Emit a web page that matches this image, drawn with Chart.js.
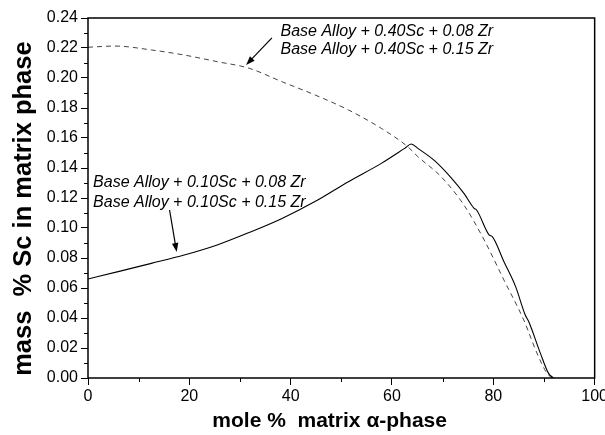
<!DOCTYPE html>
<html>
<head>
<meta charset="utf-8">
<script src="https://cdn.jsdelivr.net/npm/chart.js@4.4.1/dist/chart.umd.min.js"></script>
<style>
  html, body { margin: 0; padding: 0; background: #fff; overflow: hidden; width: 605px; height: 435px; }
  #wrap { position: absolute; left: 0; top: 0; width: 610px; height: 435px; }
</style>
</head>
<body>
<div id="wrap"><canvas id="c" width="610" height="435"></canvas></div>
<script>
// ---- data ----
const xHigh = [0, 5.3, 12.5, 19, 25.5, 31.8, 38.3, 44.8, 51.4, 57.9, 63.1, 65.1, 69.7, 74.2, 78.2, 82.1, 86.0, 88.6, 90.6, 91.6];
const yHigh = [0.2205, 0.2213, 0.2187, 0.2153, 0.2109, 0.2065, 0.1975, 0.1887, 0.1787, 0.1664, 0.1542, 0.1476, 0.1342, 0.1153, 0.0920, 0.0653, 0.0387, 0.0167, 0.0031, 0];
const xLow = [0, 5.95, 12.5, 19.0, 25.5, 31.8, 38.3, 44.8, 51.4, 57.9, 62.5, 63.8, 65.1, 68.4, 71.6, 74.2, 76.2, 76.7, 79.2, 79.8, 82.1, 84.4, 86.3, 87.0, 89.3, 90.9, 91.9];
const yLow = [0.0660, 0.0709, 0.0764, 0.0820, 0.0887, 0.0970, 0.1064, 0.1176, 0.1309, 0.1431, 0.1531, 0.1560, 0.1531, 0.1449, 0.1338, 0.1231, 0.1131, 0.1120, 0.0953, 0.0942, 0.0775, 0.0609, 0.0420, 0.0375, 0.0164, 0.0031, 0];
const labelsHigh = ['Base Alloy + 0.40Sc + 0.08 Zr', 'Base Alloy + 0.40Sc + 0.15 Zr'];
const labelsLow = ['Base Alloy + 0.10Sc + 0.08 Zr', 'Base Alloy + 0.10Sc + 0.15 Zr'];
const xTitle = 'mole %  matrix \u03b1-phase';
const yTitle = 'mass  % Sc in matrix phase';

const toPts = (xs, ys) => xs.map((x, i) => ({ x: x, y: ys[i] }));

Chart.defaults.font.family = '"Liberation Sans", Arial, sans-serif';
Chart.defaults.color = '#000';

const isMajorY = v => Math.round(v * 100) % 2 === 0;
const isMajorX = v => Math.round(v) % 20 === 0;

function arrow(ctx, x1, y1, x2, y2) {
  const ang = Math.atan2(y2 - y1, x2 - x1);
  const L = 9, W = 3.2;
  ctx.beginPath();
  ctx.moveTo(x1, y1);
  ctx.lineTo(x2 - L * 0.7 * Math.cos(ang), y2 - L * 0.7 * Math.sin(ang));
  ctx.stroke();
  ctx.beginPath();
  ctx.moveTo(x2, y2);
  ctx.lineTo(x2 - L * Math.cos(ang) + W * Math.sin(ang), y2 - L * Math.sin(ang) - W * Math.cos(ang));
  ctx.lineTo(x2 - L * Math.cos(ang) - W * Math.sin(ang), y2 - L * Math.sin(ang) + W * Math.cos(ang));
  ctx.closePath();
  ctx.fill();
}

const decor = {
  id: 'decor',
  afterDraw(chart) {
    const { ctx, chartArea: a, scales: { x, y } } = chart;
    ctx.save();
    // frame
    ctx.strokeStyle = '#000';
    ctx.lineWidth = 1.5;
    ctx.strokeRect(a.left, a.top, a.right - a.left, a.bottom - a.top);
    // minor ticks
    ctx.lineWidth = 1;
    ctx.beginPath();
    y.ticks.forEach(t => {
      if (!isMajorY(t.value)) {
        const py = Math.round(y.getPixelForValue(t.value)) + 0.5;
        ctx.moveTo(a.left - 4, py); ctx.lineTo(a.left, py);
      }
    });
    x.ticks.forEach(t => {
      if (!isMajorX(t.value)) {
        const px = Math.round(x.getPixelForValue(t.value)) + 0.5;
        ctx.moveTo(px, a.bottom); ctx.lineTo(px, a.bottom + 4);
      }
    });
    ctx.stroke();
    // annotations
    ctx.fillStyle = '#000';
    ctx.font = 'italic 16px "Liberation Sans", Arial, sans-serif';
    ctx.textBaseline = 'middle';
    ctx.textAlign = 'left';
    ctx.fillText(labelsHigh[0], x.getPixelForValue(38.0), y.getPixelForValue(0.2307));
    ctx.fillText(labelsHigh[1], x.getPixelForValue(38.0), y.getPixelForValue(0.2187));
    ctx.fillText(labelsLow[0], x.getPixelForValue(1.0), y.getPixelForValue(0.1300));
    ctx.fillText(labelsLow[1], x.getPixelForValue(1.0), y.getPixelForValue(0.1167));
    ctx.lineWidth = 1.2;
    arrow(ctx, x.getPixelForValue(36.3), y.getPixelForValue(0.2267), x.getPixelForValue(31.2), y.getPixelForValue(0.2087));
    arrow(ctx, x.getPixelForValue(16.1), y.getPixelForValue(0.1120), x.getPixelForValue(17.5), y.getPixelForValue(0.0840));
    ctx.restore();
  }
};

new Chart(document.getElementById('c'), {
  type: 'scatter',
  data: {
    datasets: [
      { data: toPts(xHigh, yHigh), showLine: true, borderColor: '#444', borderWidth: 1, borderDash: [5, 4], pointRadius: 0, cubicInterpolationMode: 'monotone' },
      { data: toPts(xLow, yLow), showLine: true, borderColor: '#000', borderWidth: 1.1, pointRadius: 0, cubicInterpolationMode: 'monotone' }
    ]
  },
  options: {
    responsive: false,
    animation: false,
    events: [],
    layout: { padding: { top: 18, left: 0, right: 0, bottom: 0 } },
    plugins: { legend: { display: false }, tooltip: { enabled: false } },
    scales: {
      x: {
        type: 'linear', min: 0, max: 100,
        border: { display: false },
        grid: { display: true, drawOnChartArea: false, drawTicks: true, tickLength: 7,
                tickColor: c => isMajorX(c.tick.value) ? '#000' : 'rgba(0,0,0,0)', tickWidth: 1 },
        ticks: { stepSize: 10, autoSkip: false, maxRotation: 0, padding: 2,
                 font: { size: 16 }, color: '#000',
                 callback: v => isMajorX(v) ? String(Math.round(v)) : '' },
        title: { display: true, text: xTitle + '    ', font: { size: 21, weight: 'bold' }, color: '#000', padding: { top: 0, bottom: 1 } },
        afterFit: s => { s.height = 57; }
      },
      y: {
        type: 'linear', min: 0, max: 0.24,
        border: { display: false },
        grid: { display: true, drawOnChartArea: false, drawTicks: true, tickLength: 7,
                tickColor: c => isMajorY(c.tick.value) ? '#000' : 'rgba(0,0,0,0)', tickWidth: 1 },
        ticks: { stepSize: 0.01, autoSkip: false, padding: 3, font: { size: 16 }, color: '#000',
                 callback: v => isMajorY(v) ? v.toFixed(2) : '' },
        title: { display: true, text: yTitle + '   ', font: { size: 25.5, weight: 'bold' }, color: '#000', padding: { top: 9, bottom: 0 } },
        afterFit: s => { s.width = 88; }
      }
    }
  },
  plugins: [decor]
});
</script>
</body>
</html>
